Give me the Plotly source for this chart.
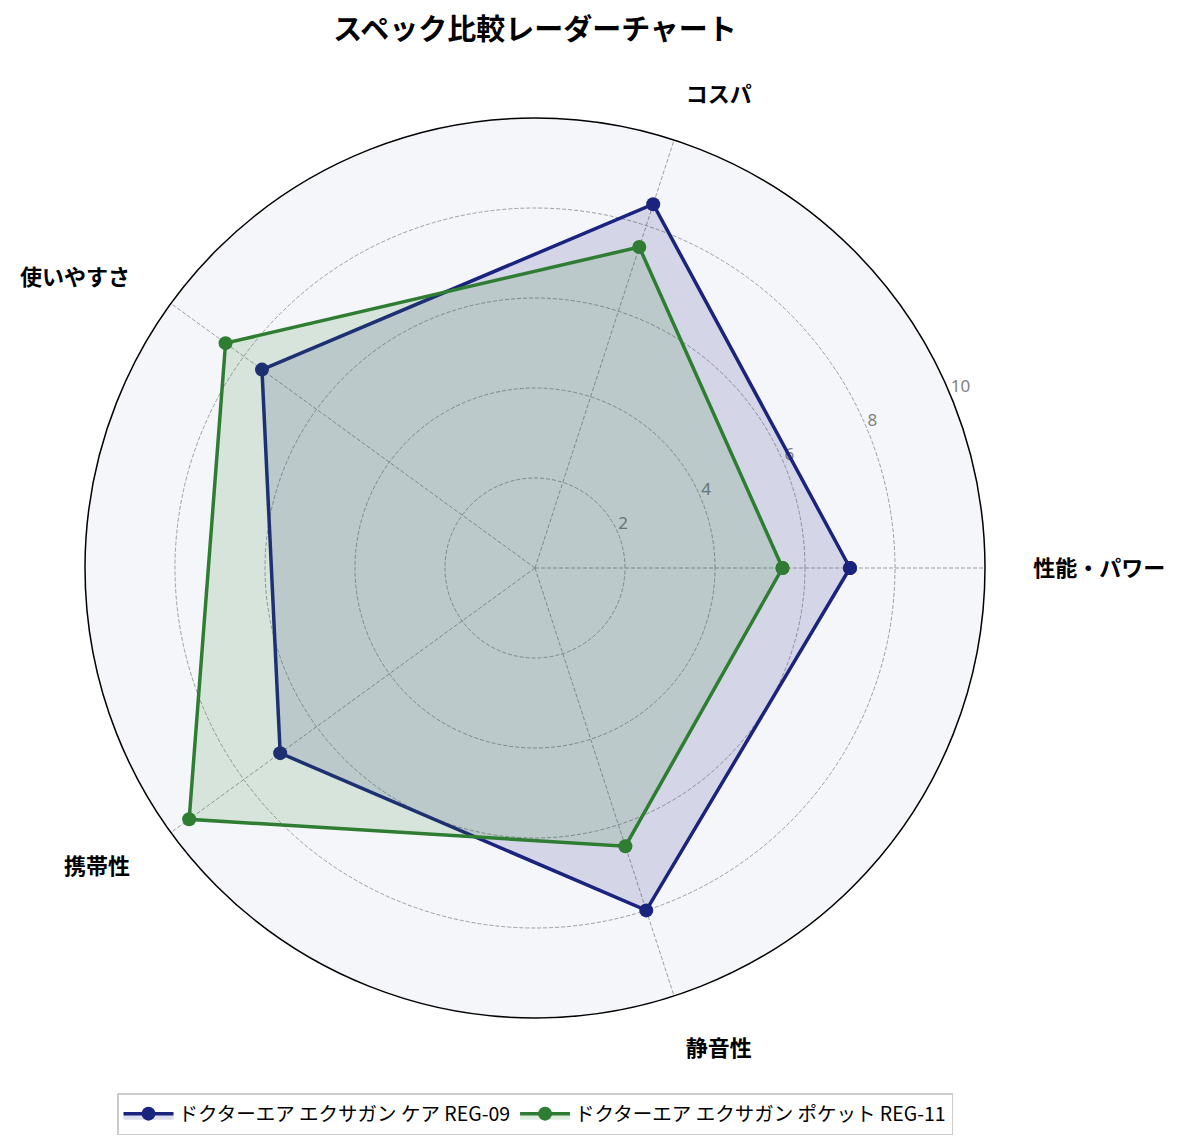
import plotly.graph_objects as go

# 評価項目とスコア (0-10)
categories = ["性能・パワー", "コスパ", "使いやすさ", "携帯性", "静音性"]
care_scores = [7.0, 8.5, 7.5, 7.0, 8.0]
pocket_scores = [5.5, 7.5, 8.5, 9.5, 6.5]
series_names = ["ドクターエア エクサガン ケア REG-09", "ドクターエア エクサガン ポケット REG-11"]
radial_ticks = [2, 4, 6, 8, 10]

colors = ["#1a237e", "#2e7d32"]
fills = ["rgba(26,35,126,0.15)", "rgba(46,125,50,0.15)"]

FONT = "Noto Sans CJK JP"
W, H = 1187, 1148
TOP = 60  # top margin that holds the title
# the page body has an 8px margin, so positions are shifted by it
OFF = 8
NBSP = "\u00a0"

# category angles in degrees, evenly spaced
angles = [i * 360 / len(categories) for i in range(len(categories))]

# pad side labels with spaces so they sit a bit further from the circle
labels = []
for a, c in zip(angles, categories):
    if a == 0:
        labels.append(f"<b>{NBSP * 2}{c}</b>")
    elif 90 < a < 270:
        labels.append(f"<b>{c}{NBSP * 2}</b>")
    else:
        labels.append(f"<b>{c}</b>")

fig = go.Figure()

# radial tick labels, drawn first so the data sits on top of them
fig.add_trace(
    go.Scatterpolar(
        r=radial_ticks,
        theta=[22.5] * len(radial_ticks),
        mode="text",
        text=[str(t) for t in radial_ticks],
        textposition="top right",
        textfont=dict(size=17, color="#808080", family="Noto Sans"),
        cliponaxis=False,
        showlegend=False,
        hoverinfo="skip",
    )
)

for name, scores, color, fill in zip(series_names, [care_scores, pocket_scores], colors, fills):
    # close the polygon
    fig.add_trace(
        go.Scatterpolar(
            r=scores + scores[:1],
            theta=angles + angles[:1],
            name=name,
            mode="lines+markers",
            fill="toself",
            fillcolor=fill,
            line=dict(color=color, width=3.5),
            marker=dict(color=color, size=14),
        )
    )

cx, cy, rad = 535 - OFF, 568 - OFF, 450
ph = H - TOP  # plot area height

fig.update_layout(
    width=W,
    height=H,
    paper_bgcolor="white",
    font=dict(family=FONT, color="black"),
    title=dict(
        text="<b>スペック比較レーダーチャート</b>",
        x=cx / W,
        xanchor="center",
        xref="paper",
        yref="container",
        y=1 - (30 - OFF) / H,
        yanchor="middle",
        font=dict(size=29, family=FONT),
    ),
    margin=dict(l=0, r=0, t=TOP, b=0),
    polar=dict(
        domain=dict(
            x=[(cx - rad) / W, (cx + rad) / W],
            y=[1 - (cy + rad - TOP) / ph, 1 - (cy - rad - TOP) / ph],
        ),
        bgcolor="#f5f6fa",
        radialaxis=dict(
            range=[0, 10],
            tickvals=radial_ticks,
            showticklabels=False,
            showline=False,
            ticks="",
            gridcolor="#9e9e9e",
            griddash="4px,2px",
            gridwidth=1,
            layer="below traces",
        ),
        angularaxis=dict(
            rotation=0,
            direction="counterclockwise",
            thetaunit="degrees",
            linecolor="black",
            linewidth=1.5,
            gridcolor="#9e9e9e",
            griddash="4px,2px",
            gridwidth=1,
            ticks="outside",
            ticklen=33,
            tickcolor="rgba(0,0,0,0)",
            tickmode="array",
            tickvals=angles,
            ticktext=labels,
            tickfont=dict(size=22, family=FONT),
            layer="below traces",
        ),
    ),
    legend=dict(
        orientation="h",
        x=cx / W,
        xanchor="center",
        y=1 - (1114 - OFF - TOP) / ph,
        yanchor="middle",
        bordercolor="#cccccc",
        borderwidth=1.5,
        itemwidth=50,
        font=dict(size=19.5, family=FONT),
    ),
)

fig.write_html("out.html")
